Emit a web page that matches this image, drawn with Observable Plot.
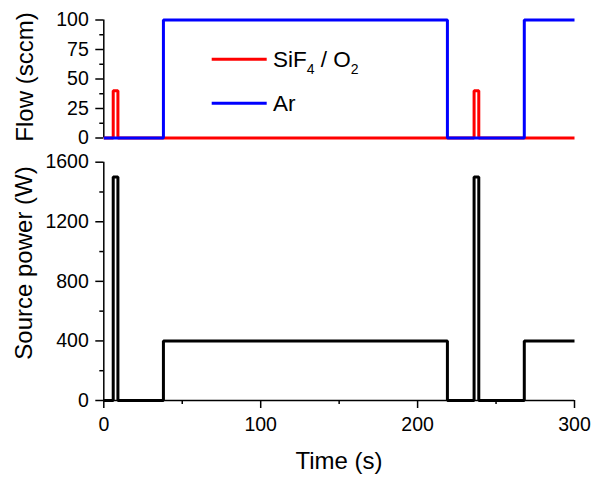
<!DOCTYPE html>
<html>
<head>
<meta charset="utf-8">
<script src="https://cdn.jsdelivr.net/npm/d3@7"></script>
<script src="https://cdn.jsdelivr.net/npm/@observablehq/plot@0.6"></script>
<style>
  html, body { margin: 0; padding: 0; background: #fff; }
  #chart { position: relative; width: 592px; height: 486px; font-family: "Liberation Sans", Arial, sans-serif; }
  #chart svg { position: absolute; left: 0; }
</style>
</head>
<body>
<div id="chart"></div>
<script>
// ---- data ----
const gasTime = [0, 6, 9, 236, 239, 300];
const gasFlow = [0, 40, 0, 40, 0, 0];          // SiF4 / O2 (sccm)
const arTime = [0, 38, 219, 268, 300];
const arFlow = [0, 100, 0, 100, 100];           // Ar (sccm)
const powerTime = [0, 6, 9, 38, 219, 236, 239, 268, 300];
const powerW = [0, 1500, 0, 400, 0, 1500, 0, 400, 400]; // Source power (W)

const xTicks = [0, 100, 200, 300];
const xMinor = [50, 150, 250];
const flowTicks = [0, 25, 50, 75, 100];
const flowMinor = [12.5, 37.5, 62.5, 87.5];
const powerTicks = [0, 400, 800, 1200, 1600];
const powerMinor = [200, 600, 1000, 1400];

const legendLabels = ["SiF4 / O2", "Ar"];
const legendColors = ["#ff0000", "#0000ff"];
const titles = {flow: "Flow (sccm)", power: "Source power (W)", time: "Time (s)"};

const gasData = gasTime.map((t, i) => ({t, v: gasFlow[i]}));
const arData = arTime.map((t, i) => ({t, v: arFlow[i]}));
const powerData = powerTime.map((t, i) => ({t, v: powerW[i]}));

const font = "Liberation Sans, Arial, sans-serif";
const W = 592, ML = 103.3, MR = 18;
const fmt = d => String(d);
const lineOpts = {x: "t", y: "v", curve: "step-after", strokeWidth: 3, strokeLinejoin: "miter", strokeLinecap: "butt"};

const topPlot = Plot.plot({
  width: W, height: 145,
  marginLeft: ML, marginRight: MR, marginTop: 19.5, marginBottom: 7.5,
  x: {domain: [0, 300], axis: null},
  y: {domain: [0, 100]},
  style: {fontFamily: font, fontSize: "19.5px", color: "black", background: "transparent", overflow: "visible"},
  marks: [
    Plot.axisY(flowTicks, {tickSize: 8, tickPadding: 7, strokeWidth: 1.5, label: null, fontSize: 19.5, tickFormat: fmt}),
    Plot.axisY(flowMinor, {tickSize: 4, strokeWidth: 1.5, text: null, label: null}),
    Plot.ruleX([0], {strokeWidth: 1.5}),
    Plot.line(gasData, {...lineOpts, stroke: legendColors[0]}),
    Plot.line(arData, {...lineOpts, stroke: legendColors[1]})
  ]
});
topPlot.style.top = "0px";

const bottomPlot = Plot.plot({
  width: W, height: 341,
  marginLeft: ML, marginRight: MR, marginTop: 16.7, marginBottom: 86,
  x: {domain: [0, 300]},
  y: {domain: [0, 1600]},
  style: {fontFamily: font, fontSize: "19.5px", color: "black", background: "transparent", overflow: "visible"},
  marks: [
    Plot.axisY(powerTicks, {tickSize: 8, tickPadding: 7, strokeWidth: 1.5, label: null, fontSize: 19.5, tickFormat: fmt}),
    Plot.axisY(powerMinor, {tickSize: 4, strokeWidth: 1.5, text: null, label: null}),
    Plot.axisX(xTicks, {tickSize: 8, tickPadding: 9, strokeWidth: 1.5, label: null, fontSize: 19.5, tickFormat: fmt}),
    Plot.axisX(xMinor, {tickSize: 4, strokeWidth: 1.5, text: null, label: null}),
    Plot.ruleX([0], {strokeWidth: 1.5}),
    Plot.ruleY([0], {strokeWidth: 1.5}),
    Plot.line(powerData, {...lineOpts, stroke: "black"})
  ]
});
bottomPlot.style.top = "145px";

const chart = document.getElementById("chart");
chart.appendChild(topPlot);
chart.appendChild(bottomPlot);

// overlay: axis titles and legend
const ov = d3.select(chart).append("svg")
  .attr("width", W).attr("height", 486)
  .style("top", "0px")
  .attr("font-family", font);

ov.append("text").attr("transform", "translate(24,77) rotate(-90)")
  .attr("text-anchor", "middle").attr("dominant-baseline", "central")
  .attr("font-size", 24).text(titles.flow);
ov.append("text").attr("transform", "translate(23,263) rotate(-90)")
  .attr("text-anchor", "middle").attr("dominant-baseline", "central")
  .attr("font-size", 24).text(titles.power);
ov.append("text").attr("x", 339).attr("y", 460)
  .attr("text-anchor", "middle").attr("dominant-baseline", "central")
  .attr("font-size", 24).text(titles.time);

const legY = [59.3, 103.3];
legendLabels.forEach((lab, i) => {
  ov.append("line").attr("x1", 211.7).attr("x2", 266.7).attr("y1", legY[i]).attr("y2", legY[i])
    .attr("stroke", legendColors[i]).attr("stroke-width", 3);
  const t = ov.append("text").attr("x", 273).attr("y", legY[i] + 8).attr("font-size", 22.5).attr("fill", "black");
  const m = lab.match(/^(SiF)(4)( \/ O)(2)$/);
  if (m) {
    t.append("tspan").text(m[1]);
    t.append("tspan").attr("font-size", 14).attr("dy", 7).text(m[2]);
    t.append("tspan").attr("dy", -7).text(m[3]);
    t.append("tspan").attr("font-size", 14).attr("dy", 7).text(m[4]);
  } else {
    t.text(lab);
  }
});
</script>
</body>
</html>
